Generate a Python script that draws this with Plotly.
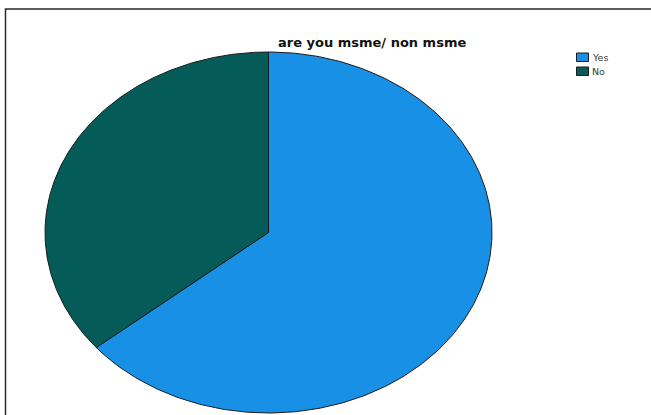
import numpy as np
import plotly.graph_objects as go

# Survey answers: "are you msme/ non msme"
categories = ["Yes", "No"]
counts = [64, 36]
colors = ["#1790E6", "#045B57"]
title_text = "are you msme/ non msme"

W, H = 651, 415
cx, cy = 268.5, 232.5      # pie centre (pixel space)
rx, ry = 223.5, 180.5      # elliptical radii

fig = go.Figure()

total = float(sum(counts))
start = 0.0
for name, val, col in zip(categories, counts, colors):
    sweep = 360.0 * val / total
    th = np.radians(np.linspace(start, start + sweep, 300))
    xs = np.concatenate([[cx], cx + rx * np.sin(th), [cx]])
    ys = np.concatenate([[cy], cy - ry * np.cos(th), [cy]])
    fig.add_trace(go.Scatter(
        x=xs, y=ys, mode="lines", fill="toself",
        fillcolor=col, line=dict(color="#1b1b1b", width=1),
        name=name, showlegend=False, hoverinfo="name",
    ))
    start += sweep

# Legend keys
for i, (name, col) in enumerate(zip(categories, colors)):
    y0 = 53 + i * 14
    fig.add_shape(type="rect", xref="x", yref="y",
                  x0=576.5, x1=588.5, y0=y0, y1=y0 + 8.5,
                  fillcolor=col, line=dict(color="#1b1b1b", width=1))
    fig.add_annotation(x=590, y=y0 + 4, xref="x", yref="y",
                       text=name, showarrow=False, xanchor="left",
                       yanchor="middle",
                       font=dict(family="DejaVu Sans", size=9.5, color="#3a3a3a"))

# Title
fig.add_annotation(x=372, y=42, xref="x", yref="y", text="<b>" + title_text + "</b>",
                   showarrow=False, xanchor="center", yanchor="middle",
                   font=dict(family="DejaVu Sans", size=13, color="#111111"))

# Outer frame
fig.add_shape(type="rect", xref="x", yref="y", x0=5.5, y0=9, x1=700, y1=460,
              line=dict(color="#2a2a2a", width=1.5), fillcolor="rgba(0,0,0,0)",
              layer="below")

fig.update_xaxes(range=[0, W], visible=False, fixedrange=True)
fig.update_yaxes(range=[H, 0], visible=False, fixedrange=True)
fig.update_layout(
    width=W, height=H, autosize=False,
    margin=dict(l=0, r=0, t=0, b=0),
    paper_bgcolor="white", plot_bgcolor="white",
    showlegend=False,
)

fig.write_html("out.html")
